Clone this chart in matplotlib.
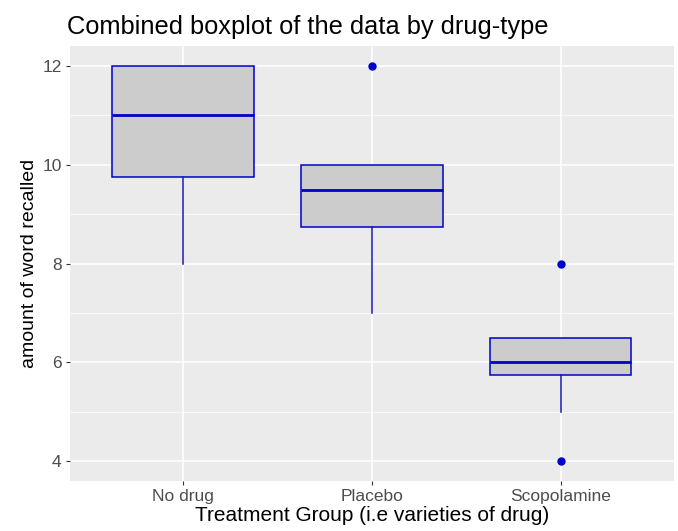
import matplotlib
matplotlib.use("Agg")
import matplotlib.pyplot as plt

# data
groups = ["No drug", "Placebo", "Scopolamine"]
q1 = [9.75, 8.75, 5.75]
medians = [11.0, 9.5, 6.0]
q3 = [12.0, 10.0, 6.5]
whisker_low = [8.0, 7.0, 5.0]
whisker_high = [12.0, 10.0, 6.5]
outliers = [[], [12.0], [8.0, 4.0]]
y_ticks = [4, 6, 8, 10, 12]
y_minor = [5, 7, 9, 11]

plt.rcParams["font.family"] = ["Liberation Sans", "DejaVu Sans"]

fig = plt.figure(figsize=(6.78, 5.31), dpi=100)
ax = fig.add_axes([0.103, 0.094, 0.891, 0.819])
ax.set_facecolor("#EBEBEB")

stats = []
for i, g in enumerate(groups):
    stats.append(dict(label=g, q1=q1[i], med=medians[i], q3=q3[i],
                      whislo=whisker_low[i], whishi=whisker_high[i],
                      fliers=outliers[i]))

pos = list(range(1, len(groups) + 1))
ax.bxp(stats, positions=pos, widths=0.75, patch_artist=True,
       showcaps=False, zorder=3,
       boxprops=dict(facecolor="#CCCCCC", edgecolor="#0000CD", linewidth=1.1),
       medianprops=dict(color="#0000CD", linewidth=2.0),
       whiskerprops=dict(color="#1A1AB0", linewidth=1.1),
       flierprops=dict(marker="o", markerfacecolor="#0000CD",
                       markeredgecolor="#0000CD", markersize=5))

ax.set_xlim(0.4, 3.6)
ax.set_ylim(3.6, 12.4)
ax.set_yticks(y_ticks)
ax.set_yticks(y_minor, minor=True)
ax.set_xticks(pos)
ax.set_xticklabels(groups)

ax.grid(True, which="major", color="white", linewidth=1.1, zorder=0)
ax.grid(True, which="minor", axis="y", color="white", linewidth=0.5, zorder=0)
ax.set_axisbelow(True)
for s in ax.spines.values():
    s.set_visible(False)

ax.tick_params(which="major", length=3, color="#333333", labelsize=12.5,
               labelcolor="#4D4D4D", pad=3)
ax.tick_params(which="minor", length=0)

ax.set_xlabel("Treatment Group (i.e varieties of drug)", fontsize=15, labelpad=1)
ax.set_ylabel("amount of word recalled", fontsize=14, labelpad=3)
ax.set_title("Combined boxplot of the data by drug-type", fontsize=18.3,
             loc="left", x=-0.004, pad=9)

fig.savefig("out.png", dpi=100)
